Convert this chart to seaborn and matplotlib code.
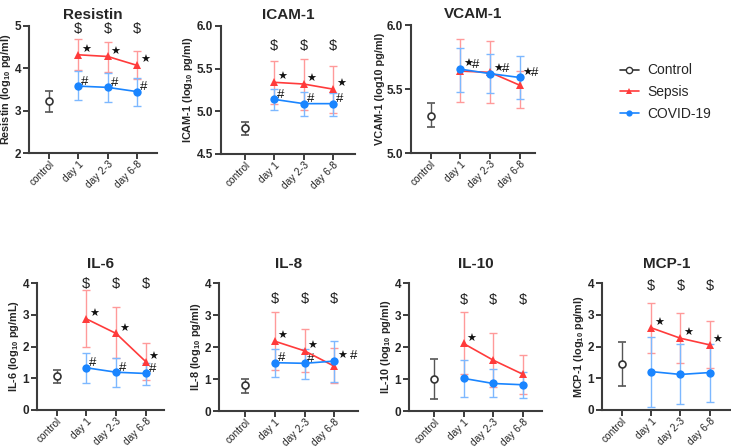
import matplotlib
matplotlib.use('Agg')
import matplotlib.pyplot as plt
import seaborn as sns
import pandas as pd
from matplotlib.lines import Line2D

# --- data (log10 values) ---
categories = ['control', 'day 1', 'day 2-3', 'day 6-8']
days = categories[1:]

panels = ['Resistin', 'ICAM-1', 'VCAM-1', 'IL-6', 'IL-8', 'IL-10', 'MCP-1']
ylabels = [r'Resistin (log$_{\mathbf{10}}$ pg/ml)', r'ICAM-1 (log$_{\mathbf{10}}$ pg/ml)',
           'VCAM-1 (log10 pg/ml)', r'IL-6 (log$_{\mathbf{10}}$ pg/mL)',
           r'IL-8 (log$_{\mathbf{10}}$ pg/ml)', r'IL-10 (log$_{\mathbf{10}}$ pg/ml)',
           r'MCP-1 (log$_{\mathbf{10}}$ pg/ml)']
ylims = [(2, 5), (4.5, 6.0), (5.0, 6.0), (0, 4), (0, 4), (0, 4), (0, 4)]
yticks = [[2, 3, 4, 5], [4.5, 5.0, 5.5, 6.0], [5.0, 5.5, 6.0],
          [0, 1, 2, 3, 4], [0, 1, 2, 3, 4], [0, 1, 2, 3, 4], [0, 1, 2, 3, 4]]

control_mid = [3.22, 4.80, 5.29, 1.08, 0.81, 1.01, 1.46]
control_lo = [2.98, 4.72, 5.20, 0.85, 0.55, 0.38, 0.76]
control_hi = [3.47, 4.875, 5.39, 1.26, 1.01, 1.62, 2.14]

sepsis_mid = [[4.32, 4.28, 4.07], [5.34, 5.32, 5.26], [5.64, 5.63, 5.53], [2.87, 2.41, 1.52],
              [2.18, 1.88, 1.40], [2.11, 1.59, 1.15], [2.59, 2.26, 2.05]]
sepsis_lo = [[3.95, 3.92, 3.75], [5.09, 5.02, 4.98], [5.40, 5.39, 5.35], [2.00, 1.63, 0.93],
             [1.28, 1.23, 0.88], [1.15, 0.76, 0.53], [1.81, 1.47, 1.31]]
sepsis_hi = [[4.69, 4.63, 4.40], [5.59, 5.61, 5.53], [5.89, 5.875, 5.64], [3.77, 3.25, 2.12],
             [3.08, 2.55, 1.98], [3.10, 2.44, 1.75], [3.38, 3.07, 2.80]]

covid_mid = [[3.58, 3.55, 3.45], [5.14, 5.09, 5.09], [5.655, 5.62, 5.59], [1.33, 1.19, 1.15],
             [1.51, 1.49, 1.56], [1.02, 0.86, 0.82], [1.21, 1.12, 1.18]]
covid_lo = [[3.26, 3.20, 3.11], [5.01, 4.95, 4.95], [5.48, 5.47, 5.42], [0.85, 0.74, 0.80],
            [1.05, 1.00, 0.91], [0.45, 0.43, 0.42], [0.11, 0.19, 0.24]]
covid_hi = [[3.94, 3.90, 3.76], [5.26, 5.23, 5.21], [5.82, 5.77, 5.76], [1.79, 1.63, 1.49],
            [1.95, 1.95, 2.18], [1.58, 1.32, 1.23], [2.31, 2.07, 2.07]]

# significance marks
dollar_y = [4.92, 5.77, None, 3.98, 3.51, 3.46, 3.90]
sepsis_marks = [['*', '*', '*'], ['*', '*', '*'], ['', '', ''], ['*', '*', '*'],
                ['*', '*', ''], ['*', '', ''], ['*', '*', '*']]
covid_marks = [['#', '#', '#'], ['#', '#', '#'], ['*#', '*#', '*#'], ['#', '#', '#'],
               ['#', '#', '* #'], ['', '', ''], ['', '', '']]

# --- layout (pixels: left, right, top, bottom, xlim) ---
W, H = 731, 447
boxes = [(29, 157, 26, 153, (-0.68, 3.68)), (221, 355, 26, 154, (-0.82, 3.75)),
         (411, 535, 25, 153, (-0.67, 3.52)), (37, 164, 283, 410, (-0.66, 3.61)),
         (219, 358, 283, 411, (-0.88, 3.8)), (409, 542, 283, 411, (-0.84, 3.65)),
         (602, 731, 283, 410, (-0.67, 3.72))]

RED = '#FF3B3B'
RED_ERR = '#FF9A9A'
BLUE = '#1A85FF'
BLUE_ERR = '#7DB8FF'
SPINE = '#3C3C3C'
FONTS = ['Liberation Sans', 'DejaVu Sans']

sns.set_theme(style='ticks')
plt.rcParams['font.family'] = FONTS
plt.rcParams['mathtext.fontset'] = 'custom'
plt.rcParams['mathtext.rm'] = 'Liberation Sans'
plt.rcParams['mathtext.bf'] = 'Liberation Sans:bold'

fig = plt.figure(figsize=(W / 100, H / 100), dpi=100)


def mark(ax, text, xy):
    # solid star for significance vs control, hash for sepsis vs covid
    gap = 6.5 if text == '*#' else 9
    off = 2
    for ch in text.replace(' ', ''):
        if ch == '*':
            ax.annotate('\u2605', xy, xytext=(off, 0), textcoords='offset points',
                        fontsize=8, ha='left', va='bottom', color='#111111')
            off += gap
        else:
            ax.annotate('#', xy, xytext=(off, -1), textcoords='offset points',
                        fontsize=9.5, ha='left', va='bottom', color='#111111')


for i, name in enumerate(panels):
    l, r, t, b, xl = boxes[i]
    ax = fig.add_axes([l / W, 1 - b / H, (r - l) / W, (b - t) / H])

    df = pd.DataFrame({
        'x': [1, 2, 3] * 2,
        'y': sepsis_mid[i] + covid_mid[i],
        'group': ['Sepsis'] * 3 + ['COVID-19'] * 3,
    })
    x_day = [1, 2, 3]

    # error bars first, lines on top
    ax.errorbar(x_day, sepsis_mid[i],
                yerr=[[m - lo for m, lo in zip(sepsis_mid[i], sepsis_lo[i])],
                      [hi - m for m, hi in zip(sepsis_mid[i], sepsis_hi[i])]],
                fmt='none', ecolor=RED_ERR, elinewidth=1.0, capsize=3, capthick=1.0, zorder=2)
    ax.errorbar(x_day, covid_mid[i],
                yerr=[[m - lo for m, lo in zip(covid_mid[i], covid_lo[i])],
                      [hi - m for m, hi in zip(covid_mid[i], covid_hi[i])]],
                fmt='none', ecolor=BLUE_ERR, elinewidth=1.0, capsize=3, capthick=1.0, zorder=2)
    ax.errorbar([0], [control_mid[i]],
                yerr=[[control_mid[i] - control_lo[i]], [control_hi[i] - control_mid[i]]],
                fmt='o', mfc='white', mec='#333333', mew=1.2, ms=5, ecolor='#555555',
                elinewidth=1.0, capsize=3, capthick=1.0, zorder=3)

    sns.lineplot(data=df, x='x', y='y', hue='group', style='group',
                 hue_order=['Sepsis', 'COVID-19'],
                 palette={'Sepsis': RED, 'COVID-19': BLUE},
                 markers={'Sepsis': '^', 'COVID-19': 'o'}, dashes=False,
                 markersize=5.5, markeredgewidth=0, linewidth=1.2,
                 legend=False, ax=ax, zorder=4)
    ax.get_lines()[-1].set_markersize(6)

    for j in range(3):
        if sepsis_marks[i][j]:
            mark(ax, sepsis_marks[i][j], (x_day[j], sepsis_mid[i][j]))
        if covid_marks[i][j]:
            mark(ax, covid_marks[i][j], (x_day[j], covid_mid[i][j]))
        if dollar_y[i] is not None:
            ax.text(x_day[j], dollar_y[i], '$', fontsize=10.5, ha='center', va='center',
                    color='#222222')

    ax.set_xlim(*xl)
    ax.set_ylim(*ylims[i])
    ax.set_yticks(yticks[i])
    if i in (1, 2):
        ax.set_yticklabels([f'{v:.1f}' for v in yticks[i]])
    ax.set_xticks(range(4))
    ax.set_xticklabels(categories, rotation=45, ha='right', rotation_mode='anchor',
                       fontsize=7.3)
    ax.set_xlabel('')
    ax.set_ylabel(ylabels[i], fontsize=7.8, fontweight='bold', labelpad=1)
    ax.set_title(name, fontsize=11, fontweight='bold', pad=5 if i < 3 else 11)
    for lab in ax.get_yticklabels():
        lab.set_fontweight('bold')
        lab.set_fontsize(8.5)
    ax.tick_params(axis='both', direction='out', length=4, width=1.4, color=SPINE, pad=1.5)
    ax.tick_params(axis='x', pad=0.5)
    sns.despine(ax=ax)
    for s in ('left', 'bottom'):
        ax.spines[s].set_linewidth(1.5)
        ax.spines[s].set_color(SPINE)

handles = [
    Line2D([], [], color='#333333', marker='o', mfc='white', mec='#333333', ms=4.5, lw=1.2),
    Line2D([], [], color=RED, marker='^', ms=4.5, mew=0, lw=1.2),
    Line2D([], [], color=BLUE, marker='o', ms=4.5, mew=0, lw=1.2),
]
fig.legend(handles, ['Control', 'Sepsis', 'COVID-19'], loc='upper left',
           bbox_to_anchor=(607 / W, 1 - 51 / H), frameon=False, fontsize=10,
           handlelength=1.4, handletextpad=0.6, labelspacing=0.55)

fig.savefig('out.png', dpi=100)
